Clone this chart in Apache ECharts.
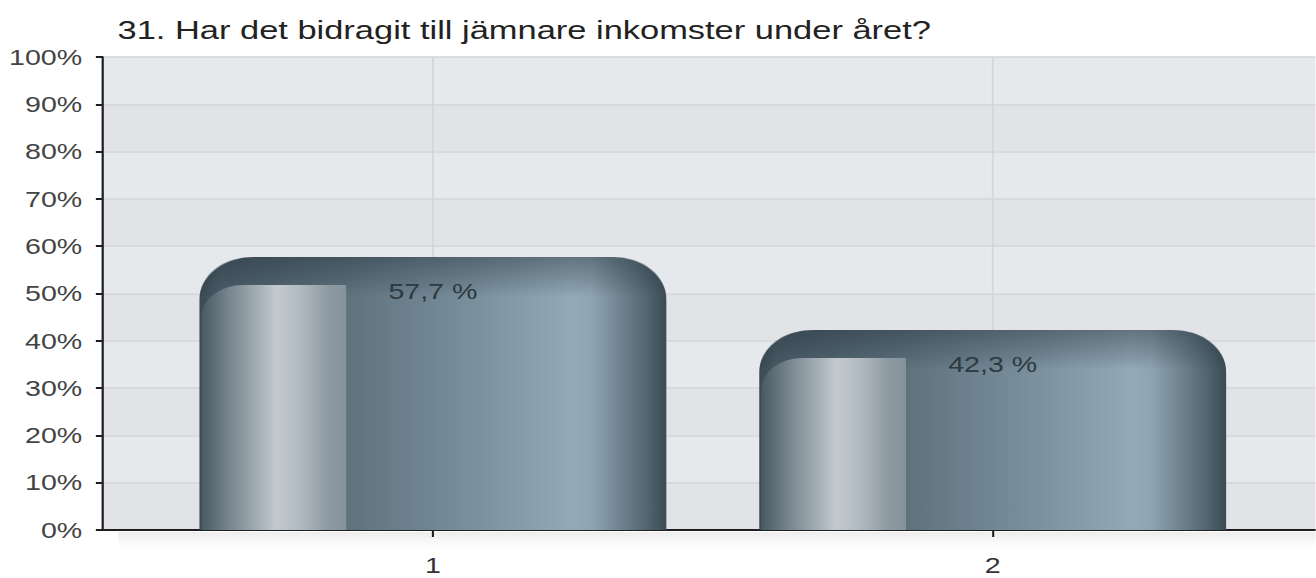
<!DOCTYPE html>
<html>
<head>
<meta charset="utf-8">
<script src="https://cdn.jsdelivr.net/npm/echarts@6/dist/echarts.min.js"></script>
<style>
html,body{margin:0;padding:0;background:#fff;overflow:hidden;}
#wrap{width:1316px;height:578px;overflow:hidden;position:relative;}
#chart{height:578px;transform-origin:0 0;position:absolute;left:0;top:0;}
</style>
</head>
<body>
<div id="wrap"><div id="chart"></div></div>
<script>
const titleText = '31. Har det bidragit till jämnare inkomster under året?';
const categories = ['1', '2'];
const values = [57.7, 42.3];
const yTicks = [0, 10, 20, 30, 40, 50, 60, 70, 80, 90, 100];

// horizontal stretch of the whole picture (reference text is wide)
const S = 1.3;
const el = document.getElementById('chart');
el.style.width = (1316 / S) + 'px';
el.style.transform = 'scaleX(' + S + ')';

const chart = echarts.init(el, null, {renderer: 'svg'});
const FONT = '"Liberation Sans", Arial, Helvetica, sans-serif';

function fmt(v) { return String(v).replace('.', ',') + ' %'; }

function renderBar(params, api) {
  const idx = api.value(0);
  const v = api.value(1);
  const pTop = api.coord([idx, v]);
  const pBase = api.coord([idx, 0]);
  const pMax = api.coord([idx, yTicks[yTicks.length - 1]]);
  const band = api.size([1, 0])[0];
  const w = band * 0.834;
  const cx = pTop[0];
  const x0 = cx - w / 2;
  const top = pTop[1];
  const h = pBase[1] - top;
  const R = 42;
  const bevel = 28;
  return {
    type: 'group',
    children: [
      {
        type: 'line',
        shape: {x1: cx, y1: pMax[1], x2: cx, y2: pBase[1]},
        style: {stroke: '#d3d5d8', lineWidth: 1.3}
      },
      {
        type: 'rect',
        shape: {x: x0, y: top, width: w, height: h, r: [R, R, 0, 0]},
        style: {
          fill: new echarts.graphic.LinearGradient(0, 0, 1, 0, [
            {offset: 0.00, color: '#3a4953'},
            {offset: 0.04, color: '#4a5c67'},
            {offset: 0.31, color: '#5e727d'},
            {offset: 0.60, color: '#7b919e'},
            {offset: 0.80, color: '#93a9b6'},
            {offset: 0.84, color: '#8fa4b1'},
            {offset: 0.88, color: '#7a8f9b'},
            {offset: 0.95, color: '#566a75'},
            {offset: 1.00, color: '#3b4b55'}
          ])
        }
      },
      {
        type: 'rect',
        shape: {x: x0, y: top, width: w, height: bevel + 12, r: [R, R, 0, 0]},
        style: {
          fill: new echarts.graphic.LinearGradient(0, 0, 0, 1, [
            {offset: 0, color: 'rgba(30,44,54,0.42)'},
            {offset: 0.6, color: 'rgba(30,44,54,0.18)'},
            {offset: 1, color: 'rgba(30,44,54,0)'}
          ])
        }
      },
      {
        type: 'rect',
        shape: {x: x0 + 1.5, y: top + bevel, width: w * 0.31, height: h - bevel, r: [32, 0, 0, 0]},
        style: {
          fill: new echarts.graphic.LinearGradient(0, 0, 1, 0, [
            {offset: 0.00, color: '#485a64'},
            {offset: 0.22, color: '#7d8b94'},
            {offset: 0.52, color: '#c3c9cf'},
            {offset: 0.68, color: '#b2bac1'},
            {offset: 0.88, color: '#8d9aa2'},
            {offset: 1.00, color: '#83939c'}
          ])
        }
      },
      {
        type: 'text',
        style: {
          x: cx,
          y: top + 34,
          text: fmt(v),
          fill: '#2e3940',
          font: '22px ' + FONT,
          align: 'center',
          verticalAlign: 'middle'
        }
      }
    ]
  };
}

const option = {
  backgroundColor: '#ffffff',
  animation: false,
  title: {
    text: titleText,
    left: 111 / S,
    top: 11,
    textStyle: {fontFamily: FONT, fontSize: 26.5, fontWeight: 'normal', color: '#222'}
  },
  graphic: [
    {
      type: 'rect',
      left: 118 / S, top: 532,
      shape: {width: 1198 / S, height: 16},
      style: {
        fill: new echarts.graphic.LinearGradient(0, 0, 0, 1, [
          {offset: 0, color: 'rgba(0,0,0,0.07)'},
          {offset: 1, color: 'rgba(0,0,0,0)'}
        ])
      },
      z: -1
    }
  ],
  grid: [
    {left: 103 / S, right: 0, top: 57, bottom: 48, containLabel: false},
    {left: 153 / S, right: 43 / S, top: 57, bottom: 48, containLabel: false}
  ],
  xAxis: [
    {
      gridIndex: 0, type: 'value', min: 0, max: 1,
      axisLine: {show: true, onZero: false, lineStyle: {color: '#1e1e1e', width: 2}},
      axisTick: {show: false}, axisLabel: {show: false}, splitLine: {show: false}
    },
    {
      gridIndex: 1, type: 'category', data: categories,
      axisLine: {show: false},
      axisTick: {show: true, alignWithLabel: true, length: 7, lineStyle: {color: '#1e1e1e', width: 1.6}},
      axisLabel: {fontFamily: FONT, fontSize: 22, color: '#333', margin: 24},
      splitLine: {show: false}
    }
  ],
  yAxis: [
    {
      gridIndex: 0, type: 'value', min: 0, max: 100, interval: 10,
      axisLine: {show: true, lineStyle: {color: '#1e1e1e', width: 1.7}},
      axisTick: {show: true, length: 5.5, lineStyle: {color: '#1e1e1e', width: 2}},
      axisLabel: {formatter: '{value}%', fontFamily: FONT, fontSize: 22, color: '#444', margin: 16},
      splitLine: {show: true, lineStyle: {color: '#d3d5d8', width: 1.5}},
      splitArea: {show: true, areaStyle: {color: ['#e2e3e6', '#e6e9ec']}}
    },
    {
      gridIndex: 1, type: 'value', min: 0, max: 100, interval: 10, show: false
    }
  ],
  series: [
    {
      type: 'custom',
      xAxisIndex: 1,
      yAxisIndex: 1,
      renderItem: renderBar,
      encode: {x: 0, y: 1},
      data: categories.map((c, i) => [i, values[i]]),
      z: 5
    }
  ]
};

chart.setOption(option);
</script>
</body>
</html>
